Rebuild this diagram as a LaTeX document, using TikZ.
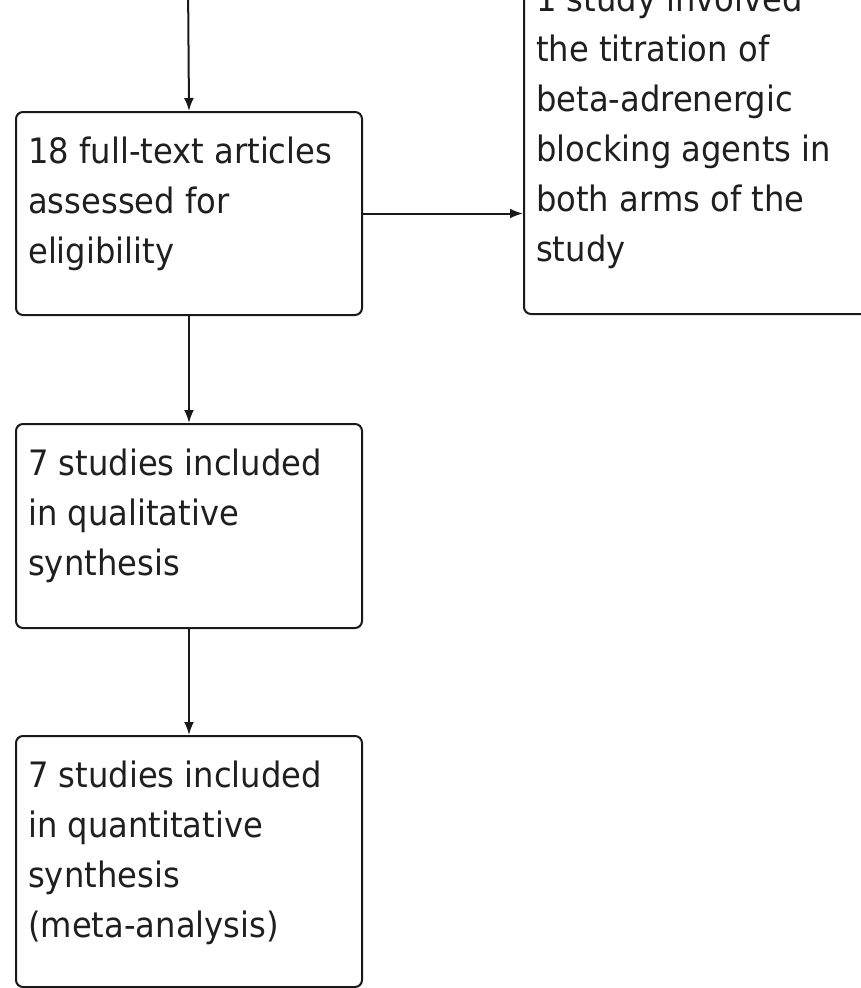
\documentclass[tikz,border=0pt]{standalone}
\usepackage{fontspec}
\setmainfont{DejaVu Sans}[FakeStretch=0.92]
\usetikzlibrary{arrows.meta,calc}

\tikzset{
  stagebox/.style={draw=black!90, line width=2pt, rounded corners=7pt, anchor=north west, inner sep=0pt},
  boxtext/.style={anchor=north west, inner sep=0pt, align=left, text=black!88, font=\fontsize{35}{50}\selectfont},
  flow/.style={draw=black!90, line width=2pt, -{Latex[length=13pt,width=10pt]}}
}

\begin{document}
\begin{tikzpicture}[x=1pt, y=-1pt]
    \useasboundingbox (0,0) rectangle (861,988);
    \clip (0,0) rectangle (861,988);

    % Boxes of the flow
    \node[stagebox, minimum width=346pt, minimum height=203pt] (full) at (15,111) {};
    \node[stagebox, minimum width=346pt, minimum height=204pt] (qual) at (15,423) {};
    \node[stagebox, minimum width=346pt, minimum height=251pt] (quant) at (15,735) {};
    \node[stagebox, minimum width=345pt, minimum height=354pt] (excl) at (523,-41) {};

    % Texts in the boxes
    \node[boxtext] (fulltext) at ($(full.north west)+(13,17.5)$) {\strut 18 full-text articles\\assessed for\\eligibility};
    \node[boxtext] (qualtext) at ($(qual.north west)+(13,17.5)$) {\strut 7 studies included\\in qualitative\\synthesis};
    \node[boxtext] (quanttext) at ($(quant.north west)+(13,17.5)$) {\strut 7 studies included\\in quantitative\\synthesis\\(meta-analysis)};
    \node[boxtext] (excltext) at ($(excl.north west)+(13,17.5)$) {\strut 1 study involved\\the titration of\\beta-adrenergic\\blocking agents in\\both arms of the\\study};

    % Connectors
    \coordinate (src) at (188,-20);
    \draw[flow] (src) -- (full.north);
    \draw[flow] (full.south) -- (qual.north);
    \draw[flow] (qual.south) -- (quant.north);
    \draw[flow] (full.east) -- (full.east -| excl.west);
\end{tikzpicture}
\end{document}
